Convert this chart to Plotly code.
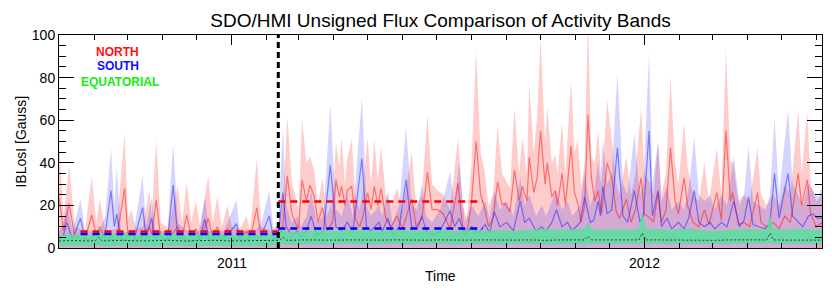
import pandas as pd
import plotly.graph_objects as go

START = "2010-08-01"
X_END = "2012-06-06"

# ---- NORTH band (days since START, upper envelope, mean) ----
red_day = [0,4,9,14,23,29,33,36,41,51, 58,61,64,68,74,80,82,86,90,97,
           105,109,113,117,121,125,132,136,140,144, 149,153,160,166,169,175,179,188,195,
           198,202,206,208,212,215,219,222,226,229, 233,237,242,245,248,250,253,255,259,262,
           266,269,273,276,279,282,285,289,294,299, 304,312,316,321,326,330,335,340,346,353,
           357,361,365,369,373,376,380,384,388,392, 394,399,403,407,410,414,416,420,423,426,
           430,432,436,439,441,445,448,453,456,459, 462,465,468,471,474,477,480,485,489,493,
           496,502,506,510,515,518,523,526,530,533, 537,541,545,548,553,556,561,566,571,575,
           582,586,590,594,596,601,606,611,618,621, 626,632,637,642,647,654,657,662,665,670,
           675]
red_up = [51,15,39,10,8,34,12,23,8,9, 54,14,18,9,10,27,14,51,12,9,
          29.5,12,31,12,22,10,34,12,24,10, 20,10,9,15,8,42,10,8,12,
          20,62,30,27,18,60.5,40,43,36,20, 33,15,22,50,38,52,30,42,51,25,
          18,28,52,30,51,32,48,25,20,28, 18,45,20,25,62.5,30,27,25,18,52,
          20,14,40,93,45,38,20,25,58,35, 33,28,66,35,52,35,77,45,61.5,99,
          50,66,40,44,35,59,35,79,45,51, 28,40,108,43,40,55,30,69.5,51,30,
          25,43,25,35,66,35,30,25,50,25, 35,80,40,30,59,38,25,22,40,22,
          47,25,94,40,41,22,25,22,47,25, 20,25,20,30,25,65,35,64,30,22,
          25]
red_mean = [24,8,21,5,4,15.5,6,10,4,4, 28,6,8,4,5,10,6,22.5,5,4,
            10,5,15.5,5,9,4,14,5,10,4, 9,4,4,8,4,19,4,3,6,
            10,34,16,13,9,32,22,29.5,24,12, 19,8,12,32,24,29,20,27,29,14,
            10,15,26,18,29,20,28,14,10,15, 9,23,10,14,35.7,18,18,16,9,30.5,
            10,7,22,50,25,20,10,14,31,20, 21,17,36.6,22,29,22,42.7,26,33,55,
            30,40,24,27,20,35,20,48,26,21, 12,20,62.5,33,22,27,16,40,33,17,
            14,23,12,18,33,16,14,12,26,12, 18,47,22,16,33,20,12,10,18,11,
            26,13,55,22,26,11,12,10,26,12, 10,12,9,15,12,35,20,32,16,10,
            12]

# ---- SOUTH band ----
blue_day = [0,4,7,12,19,23,35,41,46,49, 51,55,66,74,77,82,85,96,101,105,
            115,124,129,133,146,157,160,173,179,186, 190,
            194,198,201,206,211,214,219,223,228,234, 240,245,250,255,260,268,272,276,283,286,
            291,295,301,307,312,317,321,325,330,337, 341,346,350,354,359,365,371,377,381,385,
            390,396,402,408,412,416,422,427,431,436, 440,445,450,454,461,465,470,473,477,479,
            481,485,489,494,499,503,509,514,517,522, 525,530,533,538,542,548,553,557,562,566,
            571,576,580,586,591,597,602,606,610,614, 619,625,629,633,637,641,645,649,654,658,
            663,667,671,675]
blue_up = [8,12,21,8,23,8,7,15,47,20, 38,8,7,34,10,24,8,8,49,12,
           7,8,24,8,8,22.5,8,8,12,27, 8,
           12,57,20,12,15,10,15,27,12,15, 67.5,18,15,25,15,71,20,15,20,15,
           27,12,20,57,20,18,30,15,12,18, 25,36,20,41,12,20,15,22,14,27,
           18,22,15,33,20,25,15,20,15,22, 27,18,22,15,20,36,20,25,41,30,
           51,30,35,82,30,25,54,25,30,91.5, 30,50,22,29,18,22,18,28,52,25,
           22,25,18,25,20,43,20,25,48,22, 20,18,25,61,25,46,65,30,25,20,
           30,27,24,28]
blue_mean = [4,6,12,4,14,4,3,7,27,10, 16,4,3,19,5,14,4,4,29.5,6,
             3,4,13.5,4,4,11.5,4,4,6,15, 4,
             6,26,10,6,8,5,8,15,6,8, 39,10,8,12,8,42,10,8,12,8,
             14,6,10,32,10,9,15,8,6,8, 12,17.5,10,14,6,10,7,11,7,17,
             10,12,8,22,12,14,8,10,8,12, 18,10,12,8,12,24,12,13,22,15,
             29,16,18,47,15,12,27,12,15,55, 15,27,10,14,9,12,9,14,27,12,
             10,12,9,12,10,22,10,13,24,11, 10,9,12,35,14,25,35,15,12,10,
             15,16,14,14]

# ---- EQUATORIAL band ----
green_day = [0,13,27,32,35,38,44,58,71,84,
             97,111,124,137,151,164,177,190,195,198,
             201,204,217,230,244,257,270,283,297,310,
             323,337,350,363,377,390,403,416,430,443,
             456,465,468,471,478,492,505,513,516,519,
             527,540,554,567,580,593,607,620,626,629,
             632,642,655,669,675]
green_up = [6,6.5,6,6.5,9.5,6.5,6.5,7,6,6.5,
            7,6,6.5,7,6,6.5,6,7,7,9.5,
            7.5,7.5,8,8.5,8,8.5,8.5,8,8.5,8.5,
            8,8.5,8,8.5,8,8.5,8,8.5,9,8.5,
            9,9,12,9,8.5,9,8.5,9,17,9,
            9,8.5,9,8.5,8,8.5,9,8.5,9,15,
            9,8.5,9,8.5,8.5]
green_lo = [0.8,1.2,0.8,1,1.5,1,0.8,1.2,1,0.8,
            1.2,1,0.8,1.2,0.9,1,0.8,1.2,1.2,2,
            1.5,1.5,1.8,1.6,1.8,2,1.6,1.8,2,1.6,
            1.8,2,1.6,1.8,2,1.7,1.8,2,1.6,1.8,
            2,1.8,2.2,1.8,2,1.8,2,1.8,2.5,1.8,
            2,1.8,2,1.8,2,1.8,2,1.8,2,2.5,
            2,1.8,2,1.8,2]
green_mean = [3.3,3.5,3.3,3.4,5,3.4,3.4,3.6,3.3,3.5,
              3.6,3.3,3.5,3.6,3.3,3.5,3.4,3.6,3.6,5,
              3.7,3.6,3.8,3.6,3.7,3.8,3.6,3.7,3.8,3.6,
              3.7,3.8,3.6,3.7,3.8,3.6,3.7,3.8,3.6,3.8,
              3.9,3.8,5.5,3.8,3.8,3.9,3.7,3.8,7,3.8,
              3.8,3.7,3.8,3.7,3.6,3.8,3.7,3.8,3.8,7,
              3.8,3.7,3.8,3.7,3.7]

# ---- period averages (dashed lines) ----
period_dates = ["2010-08-20", "2011-02-11", "2011-08-11"]
north_avg = [7.8, 21.8]
south_avg = [6.6, 9.2]
split_date = "2011-02-11"

legend_names = ["NORTH", "SOUTH", "EQUATORIAL"]


def to_dates(days):
    return pd.Timestamp(START) + pd.to_timedelta(days, unit="D")


fig = go.Figure()

# filled envelopes
fig.add_trace(go.Scatter(x=to_dates(red_day), y=red_up, mode="lines", line=dict(width=0),
                         fill="tozeroy", fillcolor="rgba(255,0,0,0.2)", hoverinfo="skip"))
fig.add_trace(go.Scatter(x=to_dates(blue_day), y=blue_up, mode="lines", line=dict(width=0),
                         fill="tozeroy", fillcolor="rgba(0,0,255,0.17)", hoverinfo="skip"))
# mean lines
fig.add_trace(go.Scatter(x=to_dates(red_day), y=red_mean, mode="lines",
                         line=dict(color="rgba(255,30,30,0.55)", width=1.2)))
fig.add_trace(go.Scatter(x=to_dates(blue_day), y=blue_mean, mode="lines",
                         line=dict(color="rgba(30,30,255,0.5)", width=1.2)))
# equatorial band
gd = to_dates(green_day)
fig.add_trace(go.Scatter(x=gd, y=green_lo, mode="lines", line=dict(width=0), hoverinfo="skip"))
fig.add_trace(go.Scatter(x=gd, y=green_up, mode="lines", line=dict(width=0),
                         fill="tonexty", fillcolor="rgba(85,225,155,0.85)", hoverinfo="skip"))
fig.add_trace(go.Scatter(x=gd, y=green_mean, mode="lines",
                         line=dict(color="rgb(60,60,60)", width=1, dash="2px,2px")))

# period average dashed lines
for i in range(2):
    xs = [period_dates[i], period_dates[i + 1]]
    fig.add_trace(go.Scatter(x=xs, y=[north_avg[i]] * 2, mode="lines",
                             line=dict(color="#ff0000", width=2.5, dash="7px,5px")))
    fig.add_trace(go.Scatter(x=xs, y=[south_avg[i]] * 2, mode="lines",
                             line=dict(color="#0000ff", width=2.5, dash="7px,5px")))

fig.add_shape(type="line", xref="x", yref="paper", x0=split_date, x1=split_date, y0=0, y1=1,
              line=dict(color="black", width=3, dash="6px,4px"))

font_family = "Liberation Sans, Arial, sans-serif"
legend_colors = ["#ff1010", "#1010ff", "#10ee10"]
legend_pos = [(0.077, 0.918), (0.077, 0.854), (0.080, 0.779)]
for name, col, (px, py) in zip(legend_names, legend_colors, legend_pos):
    fig.add_annotation(text=f"<b>{name}</b>", x=px, y=py, xref="paper", yref="paper",
                       showarrow=False, font=dict(color=col, size=12, family=font_family),
                       xanchor="center", yanchor="middle")

fig.add_annotation(text="IBLosI [Gauss]", x=-0.051, y=0.5, xref="paper", yref="paper",
                   textangle=-90, showarrow=False, xanchor="center", yanchor="middle",
                   font=dict(size=14, color="black", family=font_family))
fig.add_annotation(text="Time", x=0.5, y=-0.131, xref="paper", yref="paper",
                   showarrow=False, xanchor="center", yanchor="middle",
                   font=dict(size=14, color="black", family=font_family))

# page body has an 8px margin, so the figure is sized to fit inside the window
fig.update_layout(
    width=824, height=284,
    margin=dict(l=51, r=10, t=27, b=44),
    paper_bgcolor="white", plot_bgcolor="white",
    showlegend=False,
    font=dict(family=font_family, size=14, color="black"),
    title=dict(text="SDO/HMI Unsigned Flux Comparison of Activity Bands",
               x=0.5, xref="paper", y=0.958, yref="container", yanchor="middle",
               font=dict(size=19, color="black", family=font_family)),
)
fig.update_xaxes(type="date", range=[START, X_END], showgrid=False, zeroline=False,
                 showline=True, linecolor="black", linewidth=1, mirror="ticks",
                 ticks="inside", ticklen=10, tickcolor="black", tickwidth=1,
                 tick0="2011-01-01", dtick="M12", tickformat="%Y",
                 tickfont=dict(size=14), ticklabelstandoff=2,
                 minor=dict(ticks="inside", ticklen=5, tickcolor="black", dtick="M1",
                            tick0="2010-08-01", showgrid=False))
fig.update_yaxes(range=[0, 100], showgrid=False, zeroline=False,
                 showline=True, linecolor="black", linewidth=1, mirror="ticks",
                 ticks="inside", ticklen=15, tickcolor="black", tickwidth=1,
                 dtick=20, tick0=0, tickfont=dict(size=14),
                 minor=dict(ticks="inside", ticklen=7, tickcolor="black", dtick=5,
                            showgrid=False))

fig.write_html("out.html")
